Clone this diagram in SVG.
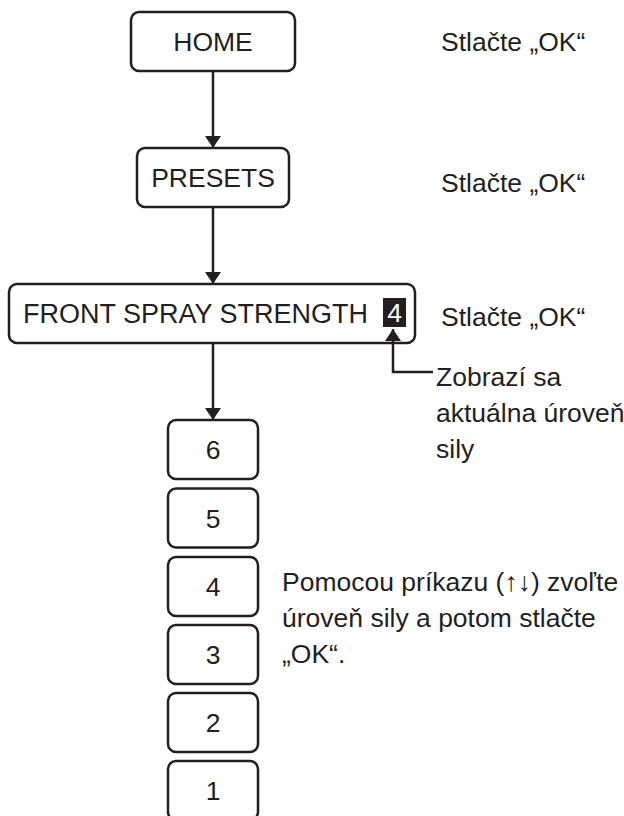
<svg xmlns="http://www.w3.org/2000/svg" width="624" height="816" viewBox="0 0 624 816">
<defs>
<style>
.box{fill:#fff;stroke:#231f20;stroke-width:2.5}
.t{font-family:"Liberation Sans",Arial,sans-serif;font-size:26.5px;fill:#231f20}
.c{text-anchor:middle}
.ln{stroke:#231f20;stroke-width:2.5;fill:none}
</style>
<marker id="ah" viewBox="0 0 12 16" refX="12" refY="8" markerWidth="12" markerHeight="16" markerUnits="userSpaceOnUse" orient="auto">
<path d="M0,0 L12,8 L0,16 Z" fill="#231f20"/>
</marker>
</defs>
<rect width="624" height="816" fill="#fff"/>
<g id="home"><rect class="box" x="131" y="12" width="164" height="59" rx="8"/><text class="t c" x="213" y="51">HOME</text></g>
<g id="presets"><rect class="box" x="137" y="148" width="152" height="59" rx="8"/><text class="t c" x="213" y="187">PRESETS</text></g>
<g id="front"><rect class="box" x="9" y="284" width="406" height="59" rx="8"/><text class="t" x="23" y="323" style="font-size:27px">FRONT SPRAY STRENGTH</text>
<rect x="383" y="298" width="23" height="29" fill="#231f20"/><text class="t c" x="394.5" y="322" style="fill:#fff">4</text></g>
<g id="lvl6"><rect class="box" x="168" y="420" width="90" height="59" rx="8"/><text class="t c" x="213" y="459">6</text></g>
<g id="lvl5"><rect class="box" x="168" y="488.5" width="90" height="59" rx="8"/><text class="t c" x="213" y="527.5">5</text></g>
<g id="lvl4"><rect class="box" x="168" y="557" width="90" height="59" rx="8"/><text class="t c" x="213" y="596">4</text></g>
<g id="lvl3"><rect class="box" x="168" y="625" width="90" height="59" rx="8"/><text class="t c" x="213" y="664">3</text></g>
<g id="lvl2"><rect class="box" x="168" y="693" width="90" height="59" rx="8"/><text class="t c" x="213" y="732">2</text></g>
<g id="lvl1"><rect class="box" x="168" y="761" width="90" height="59" rx="8"/><text class="t c" x="213" y="800">1</text></g>
<g id="connectors">
<line class="ln" x1="213" y1="71" x2="213" y2="148" marker-end="url(#ah)"/>
<line class="ln" x1="213" y1="207" x2="213" y2="284" marker-end="url(#ah)"/>
<line class="ln" x1="213" y1="343" x2="213" y2="420" marker-end="url(#ah)"/>
<polyline class="ln" points="433,372 393,372 393,329" marker-end="url(#ah)"/>
</g>
<g id="notes">
<text class="t" x="441" y="51">Stlačte „OK“</text>
<text class="t" x="441" y="192">Stlačte „OK“</text>
<text class="t" x="441" y="326">Stlačte „OK“</text>
<text class="t" x="436" y="386">Zobrazí sa</text>
<text class="t" x="436" y="422">aktuálna úroveň</text>
<text class="t" x="436" y="458">sily</text>
<text class="t" x="282" y="591">Pomocou príkazu (↑↓) zvoľte</text>
<text class="t" x="282" y="627">úroveň sily a potom stlačte</text>
<text class="t" x="282" y="663">„OK“.</text>
</g>
</svg>
